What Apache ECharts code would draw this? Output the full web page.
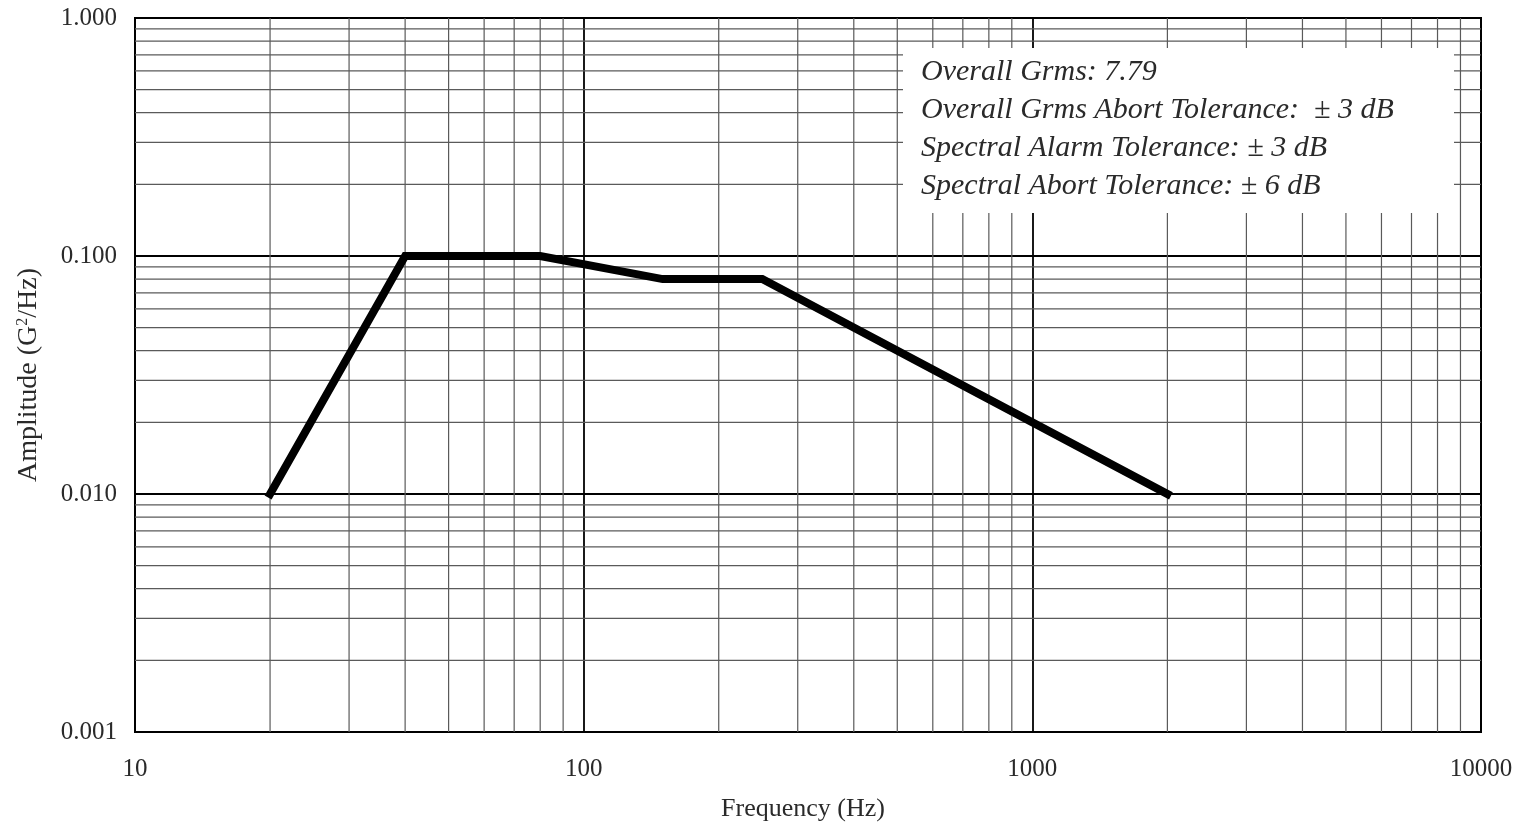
<!DOCTYPE html>
<html>
<head>
<meta charset="utf-8">
<script src="https://cdn.jsdelivr.net/npm/echarts@6/dist/echarts.min.js"></script>
<style>
  html, body {margin:0; padding:0; background:#fff;}
  #main {width:1524px; height:827px;}
</style>
</head>
<body>
<div id="main"></div>
<script>
// profile breakpoints (Hz, G^2/Hz)
const freq = [20, 40, 80, 150, 250, 2000]
const psd = [0.01, 0.1, 0.1, 0.08, 0.08, 0.01]

// axis ranges
const xRange = [10, 10000]
const yRange = [0.001, 1]

// minor grid values, 2..9 of each decade
const xMinor = [20,30,40,50,60,70,80,90, 200,300,400,500,600,700,800,900, 2000,3000,4000,5000,6000,7000,8000,9000]
const yMinor = [0.002,0.003,0.004,0.005,0.006,0.007,0.008,0.009,
                0.02,0.03,0.04,0.05,0.06,0.07,0.08,0.09,
                0.2,0.3,0.4,0.5,0.6,0.7,0.8,0.9]

const noteLines = [
  'Overall Grms: 7.79',
  'Overall Grms Abort Tolerance:  \u00b1 3 dB',
  'Spectral Alarm Tolerance: \u00b1 3 dB',
  'Spectral Abort Tolerance: \u00b1 6 dB'
]

const serif = '"Liberation Serif", "Times New Roman", serif'
const txt = '#2a2a2a'

// minor grid as thin line series through the axes
const minorStyle = {color: '#5a5a5a', width: 1.2}
let gridSeries = []
xMinor.forEach(v => {
  gridSeries.push({type: 'line', data: [[v, yRange[0]], [v, yRange[1]]], symbol: 'none',
    silent: true, z: 1, lineStyle: minorStyle})
})
yMinor.forEach(v => {
  gridSeries.push({type: 'line', data: [[xRange[0], v], [xRange[1], v]], symbol: 'none',
    silent: true, z: 1, lineStyle: minorStyle})
})

let chart = echarts.init(document.getElementById('main'))
chart.setOption({
  backgroundColor: '#fff',
  animation: false,
  title: {
    text: noteLines.join('\n'),
    left: 903,
    top: 48,
    padding: [5, 21, 8, 18],
    backgroundColor: '#fff',
    z: 20,
    textStyle: {
      fontFamily: serif,
      fontStyle: 'italic',
      fontWeight: 'normal',
      fontSize: 30,
      lineHeight: 38,
      color: txt,
      width: 512
    }
  },
  grid: {
    left: 135, right: 43, top: 18, bottom: 94,
    show: true, borderColor: '#000', borderWidth: 2, backgroundColor: '#fff'
  },
  xAxis: {
    type: 'log', logBase: 10, min: xRange[0], max: xRange[1],
    name: 'Frequency (Hz)', nameLocation: 'middle', nameGap: 64,
    nameTextStyle: {fontFamily: serif, fontSize: 26, color: txt, padding: [0, 10, 0, 0]},
    axisLine: {show: true, lineStyle: {color: '#000', width: 2}},
    axisTick: {show: false},
    axisLabel: {fontFamily: serif, fontSize: 25, color: txt, margin: 25,
      formatter: v => String(v)},
    splitLine: {show: true, lineStyle: {color: '#000', width: 1.8}}
  },
  yAxis: {
    type: 'log', logBase: 10, min: yRange[0], max: yRange[1],
    name: 'Amplitude (G{sup|2}/Hz)', nameLocation: 'middle', nameGap: 92,
    nameTextStyle: {
      fontFamily: serif, fontSize: 28, color: txt,
      rich: {sup: {fontFamily: serif, fontSize: 16, color: txt, verticalAlign: 'top', padding: [0, 0, 12, 0]}}
    },
    axisLine: {show: true, lineStyle: {color: '#000', width: 2}},
    axisTick: {show: false},
    axisLabel: {fontFamily: serif, fontSize: 25, color: txt, margin: 18,
      formatter: v => Number(v).toFixed(3)},
    splitLine: {show: true, lineStyle: {color: '#000', width: 1.8}}
  },
  series: gridSeries.concat([
    {
      type: 'line',
      data: freq.map((f, i) => [f, psd[i]]),
      symbol: 'none',
      z: 5,
      lineStyle: {color: '#000', width: 8, cap: 'square', join: 'miter'}
    }
  ])
})
</script>
</body>
</html>
